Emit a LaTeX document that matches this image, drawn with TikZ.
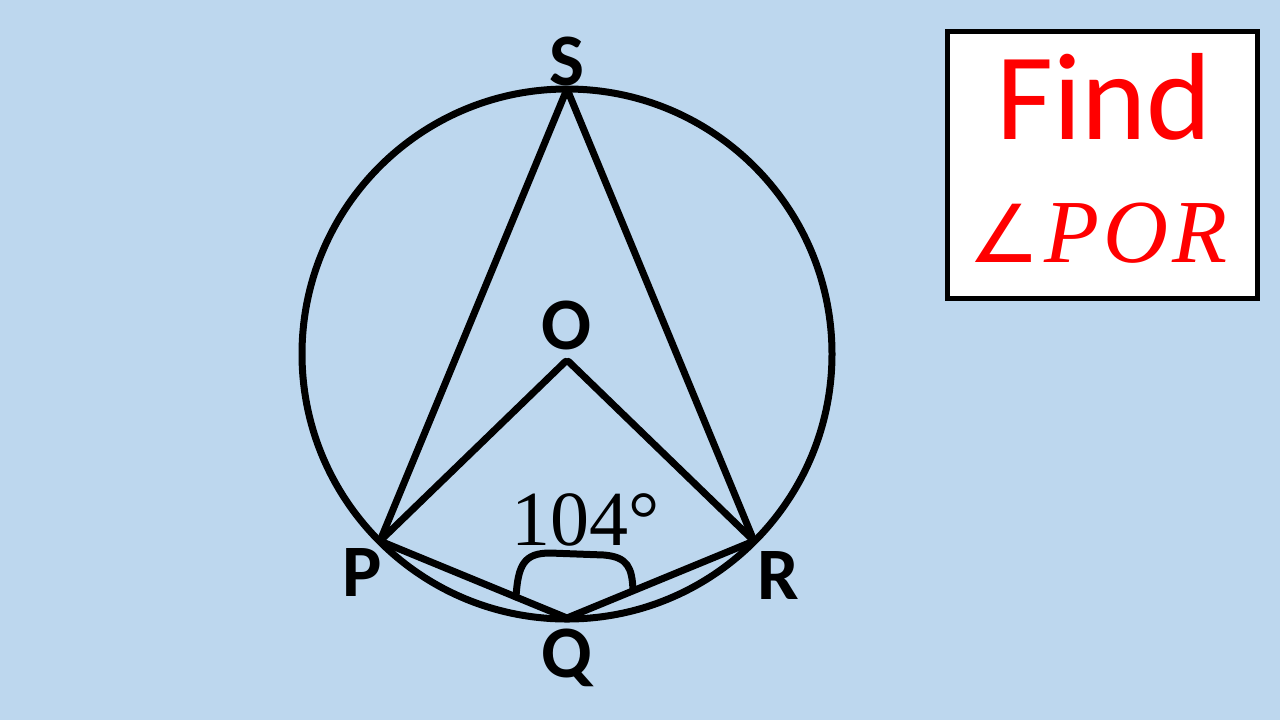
\documentclass[tikz,border=0pt]{standalone}
\usepackage{fontspec}
\setmainfont{Carlito}
\newfontfamily\numfont{Liberation Serif}
\newfontfamily\symfont{DejaVu Sans}
\definecolor{bgblue}{HTML}{BDD7EE}
\tikzset{
  pt/.style={inner sep=0pt},
  lbl/.style={inner sep=0pt, font=\fontsize{37}{40}\selectfont\bfseries},
  seg/.style={line width=3.5pt, line cap=round, line join=round}
}
\begin{document}
\begin{tikzpicture}[x=0.5pt,y=-0.5pt]
\fill[bgblue] (0,0) rectangle (1280,720);
\useasboundingbox (0,0) rectangle (1280,720);
% points on the circle
\node[pt] (ctr) at (567,354){};
\node[pt] (S) at (567,89){};
\node[pt] (O) at (567,360){};
\node[pt] (P) at (380,541){};
\node[pt] (R) at (754,541){};
\node[pt] (Q) at (567,618){};
\draw[seg] (ctr) circle (132.5pt);
\draw[seg](S) -- (P);
\draw[seg](S) -- (R);
\draw[seg](O) -- (P);
\draw[seg](O) -- (R);
\draw[seg](P) -- (Q);
\draw[seg](Q) -- (R);
% angle mark
\draw[seg] (516,597) .. controls (518,565) and (524,553) .. (550,553) -- (604,555) .. controls (628,557) and (632,568) .. (633,590);
\node[inner sep=0pt, anchor=base, font=\fontsize{39}{42}\selectfont\numfont] (ang) at (586,545) {104°};
% labels
\node[lbl] (lblS) at (567,61) {S};
\node[lbl] (lblO) at (567,325) {O};
\node[lbl] (lblP) at (362,572) {P};
\node[lbl] (lblR) at (778,575) {R};
\node[lbl] (lblQ) at (567,658) {Q};
% question box
\draw[line width=2.5pt, fill=white] (947,31) rectangle (1257,298);
\node[inner sep=0pt, anchor=base, text=red, font=\fontsize{62}{66}\selectfont] (find) at (1104,139) {Find};
\node[inner sep=0pt, anchor=base, text=red, font=\fontsize{45}{48}\selectfont] (por) at (1098,262) {{\symfont\fontsize{40}{44}\selectfont ∠}\kern2pt{\numfont\itshape P\kern2pt O\kern2pt R}};
\end{tikzpicture}
\end{document}
